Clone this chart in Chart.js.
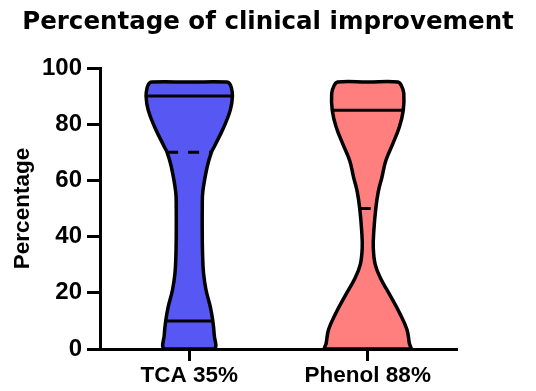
<!DOCTYPE html>
<html>
<head>
<meta charset="utf-8">
<script src="https://cdn.jsdelivr.net/npm/chart.js@4.4.1/dist/chart.umd.min.js"></script>
<style>
  html, body { margin: 0; padding: 0; background: #fff; }
  #wrap { width: 536px; height: 391px; }
</style>
</head>
<body>
<div id="wrap"><canvas id="chart"></canvas></div>
<script>
const groups = ["TCA 35%", "Phenol 88%"];
const yTicks = [0, 20, 40, 60, 80, 100];

// violin outline: percentage level and half width (category units)
const tcaLevels = [0, 5, 10, 15, 21, 27, 33, 40, 50, 56, 65, 70, 72, 79, 85, 90, 93, 94.5, 95];
const tcaHalfWidth = [.140, .140, .132, .118, .094, .080, .075, .073, .073, .076, .101, .124, .140, .194, .230, .242, .236, .225, .211];
const phenolLevels = [0, 2, 7, 13, 19, 25, 30, 36, 42, 50, 56, 61, 67, 73, 79, 85, 91, 93.5, 95];
const phenolHalfWidth = [.239, .233, .219, .177, .126, .073, .042, .031, .034, .045, .059, .079, .101, .140, .177, .199, .202, .190, .169];

// lines inside the violins
const tcaSolid = [90, 10];
const tcaDashed = [70];
const phenolSolid = [85];
const phenolDashed = [50];

const colors = ["#5757F4", "#FF7F7F"];
const txt = { family: "Liberation Sans, Arial, sans-serif", weight: "bold" };

function outline(pos, levels, hw) {
  const last = levels.length - 1;
  const right = levels.map((y, i) => ({ x: pos + hw[i], y }));
  const left = levels.map((y, i) => ({ x: pos - hw[i], y })).reverse();
  return [{ x: pos, y: levels[0] }, ...right, { x: pos, y: levels[last] }, ...left, { x: pos, y: levels[0] }];
}

function across(pos, levels, hw, y) {
  const w = hw[levels.indexOf(y)];
  return [{ x: pos - w, y }, { x: pos + w, y }];
}

function violin(pos, levels, hw, color) {
  return {
    data: outline(pos, levels, hw),
    showLine: true, fill: "shape", backgroundColor: color,
    borderColor: "#000", borderWidth: 3.5, tension: 0.4,
    pointRadius: 0, clip: false, order: 2
  };
}

function summary(pos, levels, hw, y, dashed) {
  return {
    data: across(pos, levels, hw, y),
    showLine: true, fill: false, borderColor: "#000", borderWidth: 3,
    borderDash: dashed ? [11, 10] : [], tension: 0, pointRadius: 0, order: 1
  };
}

const datasets = [
  violin(1, tcaLevels, tcaHalfWidth, colors[0]),
  violin(2, phenolLevels, phenolHalfWidth, colors[1]),
  ...tcaSolid.map(y => summary(1, tcaLevels, tcaHalfWidth, y, false)),
  ...tcaDashed.map(y => summary(1, tcaLevels, tcaHalfWidth, y, true)),
  ...phenolSolid.map(y => summary(2, phenolLevels, phenolHalfWidth, y, false)),
  ...phenolDashed.map(y => summary(2, phenolLevels, phenolHalfWidth, y, true))
];

new Chart(document.getElementById("chart"), {
  type: "scatter",
  data: { datasets },
  options: {
    responsive: true, maintainAspectRatio: false, animation: false,
    layout: { padding: 0 },
    plugins: {
      legend: { display: false },
      tooltip: { enabled: false },
      title: {
        display: true, text: "Percentage of clinical improvement", color: "#000",
        font: { family: "DejaVu Sans", weight: "bold", size: 24.5 },
        padding: { top: 8, bottom: 30.6 }
      }
    },
    scales: {
      x: {
        type: "linear", min: 0.5, max: 2.5,
        afterBuildTicks: s => { s.ticks = groups.map((g, i) => ({ value: i + 1 })); },
        afterFit: s => { s.height = 42; },
        ticks: { callback: v => groups[v - 1], color: "#000", padding: 1, autoSkip: false, maxRotation: 0, font: { ...txt, size: 22.5 } },
        grid: { drawOnChartArea: false, tickLength: 12, tickWidth: 3, tickColor: "#000" },
        border: { color: "#000", width: 3 }
      },
      y: {
        min: 0, max: 100,
        afterBuildTicks: s => { s.ticks = yTicks.map(v => ({ value: v })); },
        afterFit: s => { s.width = 100; },
        ticks: { color: "#000", padding: 5, font: { ...txt, size: 24 } },
        grid: { drawOnChartArea: false, tickLength: 13, tickWidth: 3, tickColor: "#000" },
        border: { color: "#000", width: 3 },
        title: { display: true, text: "Percentage", color: "#000", font: { ...txt, size: 22.5 }, padding: { top: 9, bottom: 0 } }
      },
      // empty right-hand box so the plot ends where the reference's does
      side: {
        position: "right", axis: "y",
        afterFit: s => { s.width = 79; },
        ticks: { display: false }, grid: { display: false }, border: { display: false }
      }
    }
  }
});
</script>
</body>
</html>
